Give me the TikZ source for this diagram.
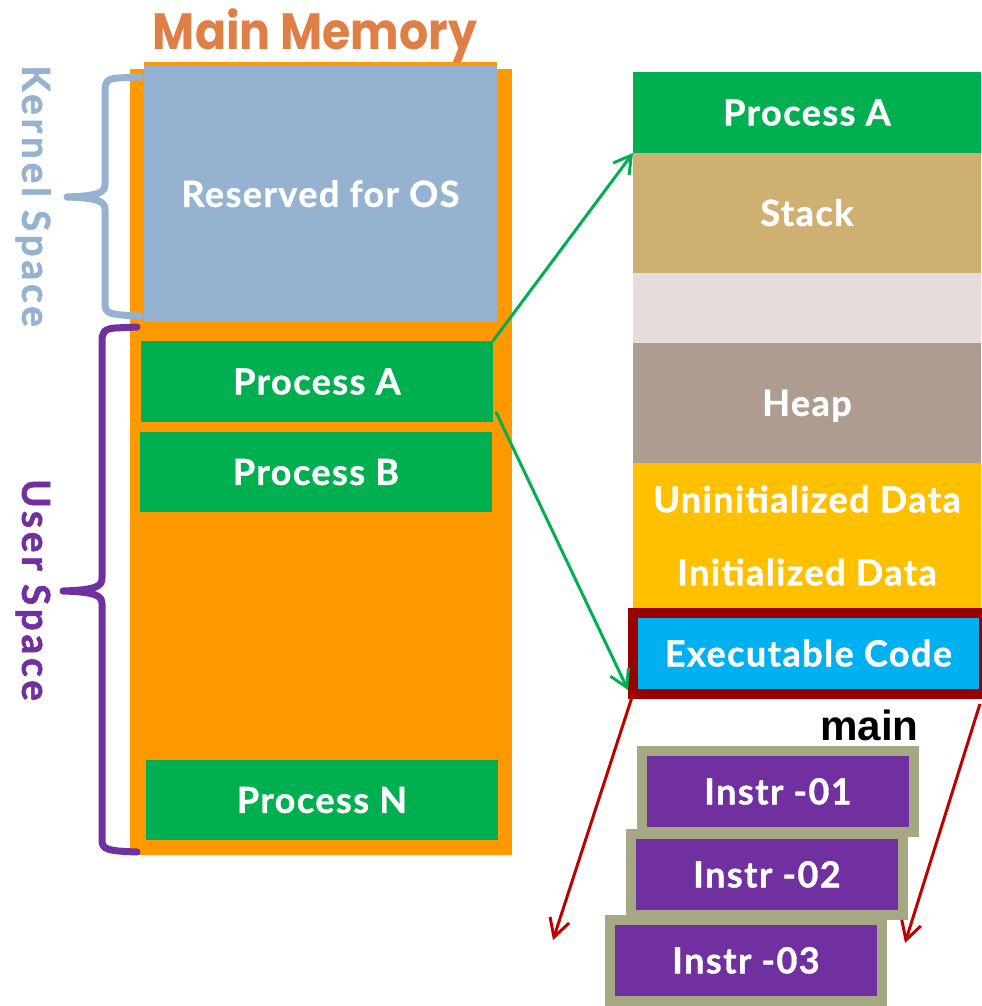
\documentclass[tikz,border=0pt]{standalone}
\usepackage{fontspec}
\usetikzlibrary{positioning,calc,arrows.meta}

\newfontfamily\boxfont[LetterSpace=4,BoldFeatures={FakeBold=1}]{Lato}
\newfontfamily\sidefont[LetterSpace=10,BoldFeatures={FakeBold=1.5}]{Lato}
\newfontfamily\titlefont{Poppins}
\newfontfamily\labelfont{Liberation Sans}

\definecolor{memorange}{HTML}{FF9900}
\definecolor{osblue}{HTML}{95B3D0}
\definecolor{procgreen}{HTML}{00B050}
\definecolor{titleorange}{HTML}{DF7F46}
\definecolor{stacktan}{HTML}{CFB073}
\definecolor{freegray}{HTML}{E6DDDA}
\definecolor{heapbrown}{HTML}{AF9C90}
\definecolor{datayellow}{HTML}{FFC000}
\definecolor{codecyan}{HTML}{00B0F0}
\definecolor{codered}{HTML}{990000}
\definecolor{jumpred}{HTML}{C00000}
\definecolor{instrolive}{HTML}{A5A882}
\definecolor{userpurple}{HTML}{7030A0}

\begin{document}
\begin{tikzpicture}[x=0.02cm,y=-0.02cm,
  block/.style={inner sep=0pt,outer sep=0pt,anchor=north west,text=white,
    text height=14.7pt,text depth=0pt,
    font=\boxfont\bfseries\fontsize{20.5}{24}\selectfont},
  seg/.style={block,minimum width=6.96cm},
  instr/.style={block,fill=userpurple,draw=instrolive,line width=0.2cm,
    minimum width=5.44cm,minimum height=1.62cm},
  side/.style={rotate=-90,inner sep=0pt,text height=15.8pt,text depth=0pt,
    font=\sidefont\bfseries\fontsize{22}{26}\selectfont},
  greenarrow/.style={draw=procgreen,line width=1.7pt,
    -{Straight Barb[length=3.4mm,width=4mm]}},
  redarrow/.style={draw=jumpred,line width=1.7pt,
    -{Straight Barb[length=3.6mm,width=4mm]}}]
\useasboundingbox (0,0) rectangle (981,1006);

% main memory
\node[block,fill=memorange,minimum width=7.64cm,minimum height=15.72cm] (mem) at (130,69) {};
\node[block,fill=osblue,minimum width=7.06cm,minimum height=5.12cm] (os) at (144,66) {Reserved for OS};
\fill[memorange] (os.north west) rectangle ++(353,-4);
\node[block,fill=procgreen,minimum width=7.04cm,minimum height=1.62cm] (procA) at (141,341) {Process A};
\node[block,fill=procgreen,minimum width=7.04cm,minimum height=1.6cm] (procB) at (140,432) {Process B};
\node[block,fill=procgreen,minimum width=7.04cm,minimum height=1.6cm] (procN) at (146,760) {Process N};

\node[anchor=base,inner sep=0pt,text=titleorange,xscale=0.9,transform shape,
  font=\titlefont\bfseries\fontsize{29}{34}\selectfont] (title) at (315,50) {Main Memory};

% braces
\draw[osblue,line width=0.14cm,line cap=round,line join=round]
  (140,77) -- (118,78) .. controls (106,79) and (105,82) .. (105,92) -- (105,184)
  .. controls (105,192) and (100,196) .. (67,197)
  .. controls (100,198) and (105,202) .. (105,210) -- (105,304)
  .. controls (105,313) and (108,315) .. (140,316);
\draw[userpurple,line width=0.14cm,line cap=round,line join=round]
  (137,327) -- (115,328) .. controls (104,329) and (102,332) .. (102,342) -- (102,578)
  .. controls (102,586) and (97,590) .. (63,591)
  .. controls (97,592) and (102,596) .. (102,604) -- (102,840)
  .. controls (102,849) and (106,851) .. (137,852);
\node[side,text=osblue] (kernel) at (36,196) {Kernel Space};
\node[side,text=userpurple] (user) at (36,590) {User Space};

% layout of process A
\node[seg,fill=procgreen,minimum height=1.62cm] (layA) at (633,72) {Process A};
\node[seg,fill=stacktan,minimum height=2.4cm,below=0pt of layA] (stack) {Stack};
\node[seg,fill=freegray,minimum height=1.4cm,below=0pt of stack] (free) {};
\node[seg,fill=heapbrown,minimum height=2.4cm,below=0pt of free] (heap) {Heap};
\node[seg,fill=datayellow,minimum height=1.46cm,below=0pt of heap] (bss) {Uninitialized Data};
\node[seg,fill=datayellow,minimum height=1.46cm,below=0pt of bss] (data) {Initialized Data};
\node[block,fill=codecyan,draw=codered,line width=0.2cm,minimum width=7.02cm,minimum height=1.62cm] (exec) at (633,613) {Executable Code};

% instructions of main
\node[anchor=base east,inner sep=0pt,font=\labelfont\bfseries\fontsize{24}{28}\selectfont] (mainlbl) at (919,740) {main};
\node[instr] (ins1) at (642,751) {Instr -01};
\node[instr] (ins2) at (631,834) {Instr -02};
\node[instr] (ins3) at (610,920) {Instr -03};

% arrows
\draw[greenarrow] (procA.north east) -- (layA.south west);
\draw[greenarrow] ($(procA.south east)+(3,-10)$) -- ($(exec.south west)+(-5,-4)$);
\coordinate (lowL) at (553,940);
\coordinate (lowR) at (905,943);
\draw[redarrow] (exec.south west) -- (lowL);
\draw[redarrow] ($(exec.south east)+(-4,10)$) -- (lowR);
\end{tikzpicture}
\end{document}
